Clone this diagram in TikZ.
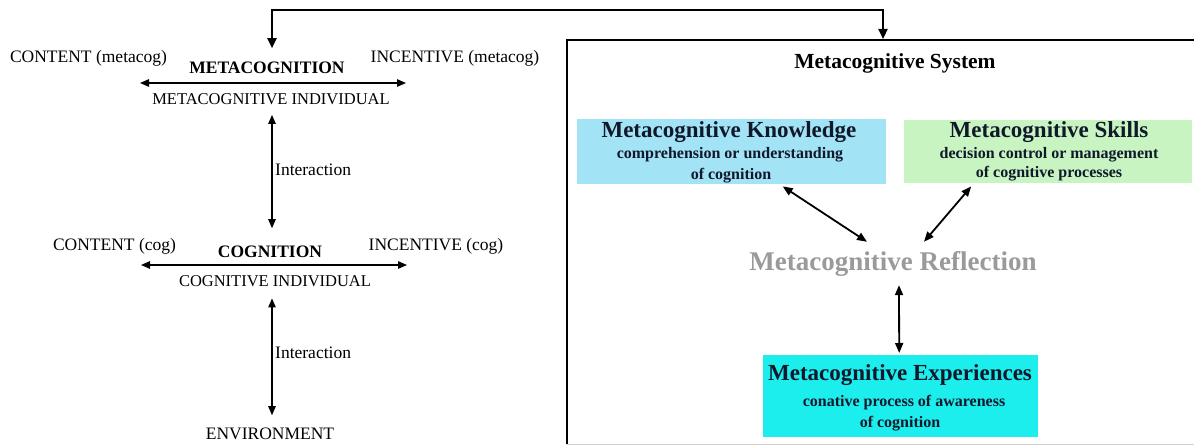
\documentclass[tikz,border=0pt]{standalone}
\usepackage{fontspec}
\setmainfont{Liberation Serif}
\usetikzlibrary{arrows.meta,calc}
\definecolor{knowblue}{HTML}{A2E3F6}
\definecolor{skillgreen}{HTML}{C8F4C2}
\definecolor{expcyan}{HTML}{1CEEEE}
\definecolor{reflgray}{HTML}{9A9A9A}
\definecolor{darktxt}{HTML}{10182A}
\begin{document}
\begin{tikzpicture}[x=1pt,y=-1pt,
  lbl/.style={inner sep=0pt, anchor=base, font=\fontsize{17.5}{20}\selectfont},
  lblb/.style={inner sep=0pt, anchor=base, font=\bfseries\fontsize{17.5}{20}\selectfont},
  indiv/.style={inner sep=0pt, anchor=base, font=\fontsize{16.5}{19}\selectfont},
  interlbl/.style={inner sep=0pt, anchor=base west, font=\fontsize{17.5}{20}\selectfont},
  thinarr/.style={line width=1.2pt, {Triangle[length=9pt,width=7.5pt]}-{Triangle[length=9pt,width=7.5pt]}},
  thickarr/.style={line width=1.8pt, {Triangle[length=10pt,width=8pt]}-{Triangle[length=10pt,width=8pt]}},
  topconn/.style={line width=2.2pt, {Triangle[length=10pt,width=9pt]}-{Triangle[length=10pt,width=9pt]}},
  colbox/.style={inner sep=0pt, draw=none, anchor=north west},
  ttl/.style={inner sep=0pt, anchor=base, text=darktxt, font=\bfseries\fontsize{23}{26}\selectfont},
  subl/.style={inner sep=0pt, anchor=base, text=darktxt, font=\bfseries\fontsize{16}{19}\selectfont}
]
\useasboundingbox (0,0) rectangle (1194,446);

% ---------------- left part ----------------
\node[lbl] (contm) at (88.5,63) {CONTENT (metacog)};
\node[lbl] (incm) at (455,63) {INCENTIVE (metacog)};
\node[lblb] (metacog) at (267,74) {METACOGNITION};
\node[indiv] (metaind) at (271,104.5) {METACOGNITIVE INDIVIDUAL};
\coordinate (mL) at (140,83);
\coordinate (mR) at (406,83);
\draw[thinarr] (mL) -- (mR);

\node[interlbl] (int1) at (275,176) {Interaction};

\node[lbl] (contc) at (114.5,251) {CONTENT (cog)};
\node[lbl] (incc) at (436,251) {INCENTIVE (cog)};
\node[lblb] (cog) at (270,258) {COGNITION};
\node[indiv] (cogind) at (275,286.5) {COGNITIVE INDIVIDUAL};
\coordinate (cL) at (141,265);
\coordinate (cR) at (407,265);
\draw[thinarr] (cL) -- (cR);

\node[interlbl] (int2) at (275,359) {Interaction};
\node[lbl] (env) at (270,439) {ENVIRONMENT};

\draw[thinarr] ($(metaind.south)+(1,10)$) -- ($(cog.north)+(2,-18)$);
\draw[thinarr] ($(cogind.south)+(-3,11.5)$) -- ($(env.north)+(2,-12)$);

% ---------------- right part ----------------
\node[colbox, minimum width=640pt, minimum height=404pt] (sys) at (567,40) {};
\draw[line width=2.4pt] (sys.south west) -- (sys.north west) -- (sys.north east);
\draw[black!18, line width=0.8pt] (sys.south west) -- (sys.south east);

\draw[topconn] ($(metacog.north)+(5,-14)$) |- ($(sys.north west)+(316,-30)$) -- ($(sys.north west)+(316,-1)$);

\node[inner sep=0pt, anchor=base, font=\bfseries\fontsize{21.5}{24}\selectfont] (systitle) at (895,69) {Metacognitive System};

\node[colbox, fill=knowblue, minimum width=309pt, minimum height=65pt] (know) at (577,119) {};
\node[ttl] (knowt) at (729,138) {Metacognitive Knowledge};
\node[subl] (knows1) at (730,159) {comprehension or understanding};
\node[subl] (knows2) at (731,180) {of cognition};

\node[colbox, fill=skillgreen, minimum width=288pt, minimum height=63pt] (skills) at (904,120) {};
\node[ttl] (skillst) at (1049,138) {Metacognitive Skills};
\node[subl] (skills1) at (1049,159) {decision control or management};
\node[subl] (skills2) at (1049,178) {of cognitive processes};

\node[inner sep=0pt, anchor=base, text=reflgray, font=\bfseries\fontsize{27}{30}\selectfont] (refl) at (893,271) {Metacognitive Reflection};

\node[colbox, fill=expcyan, minimum width=275pt, minimum height=82pt] (exp) at (763,355) {};
\node[ttl] (expt) at (900,380) {Metacognitive Experiences};
\node[subl] (exps1) at (904,406) {conative process of awareness};
\node[subl] (exps2) at (900,427) {of cognition};

\draw[thickarr] ($(know.south)+(51,2)$) -- ($(refl.north)+(-26,-10)$);
\draw[thickarr] ($(skills.south)+(-77,3)$) -- ($(refl.north)+(31,-10)$);
\draw[thickarr] ($(refl.south)+(6,8)$) -- ($(exp.north)+(-1.5,-2)$);
\end{tikzpicture}
\end{document}
